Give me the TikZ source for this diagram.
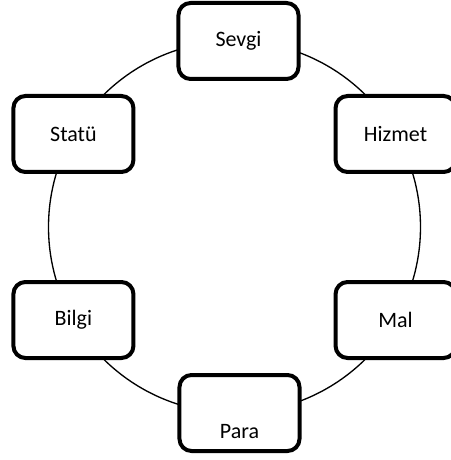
\documentclass[tikz,border=0pt]{standalone}
\usepackage{fontspec}
\setmainfont{Carlito}
\usepackage{tikz}
\tikzset{
  box/.style={draw=black,line width=3pt,rounded corners=9pt,fill=white,
    minimum width=90pt,minimum height=57pt,inner sep=0pt,
    font=\fontsize{16.5}{19}\selectfont},
  ring/.style={draw=black,line width=1pt}
}

\begin{document}
\begin{tikzpicture}[x=0.75pt,y=0.75pt]
\useasboundingbox (-234.5,-233) rectangle (215.5,227);
\coordinate (o) at (0,0);
\draw[ring] (o) circle (186);
\node[box] (sevgi) at (4,186) {Sevgi};
\node[box] (hizmet) at (30:186) {Hizmet};
\node[box] (mal) at (-30:186) {Mal};
\node[box] (para) at (5,-186) {\raisebox{-19pt}[0pt][0pt]{Para}};
\node[box] (bilgi) at (210:186) {Bilgi};
\node[box] (statu) at (150:186) {Statü};
\end{tikzpicture}
\end{document}
